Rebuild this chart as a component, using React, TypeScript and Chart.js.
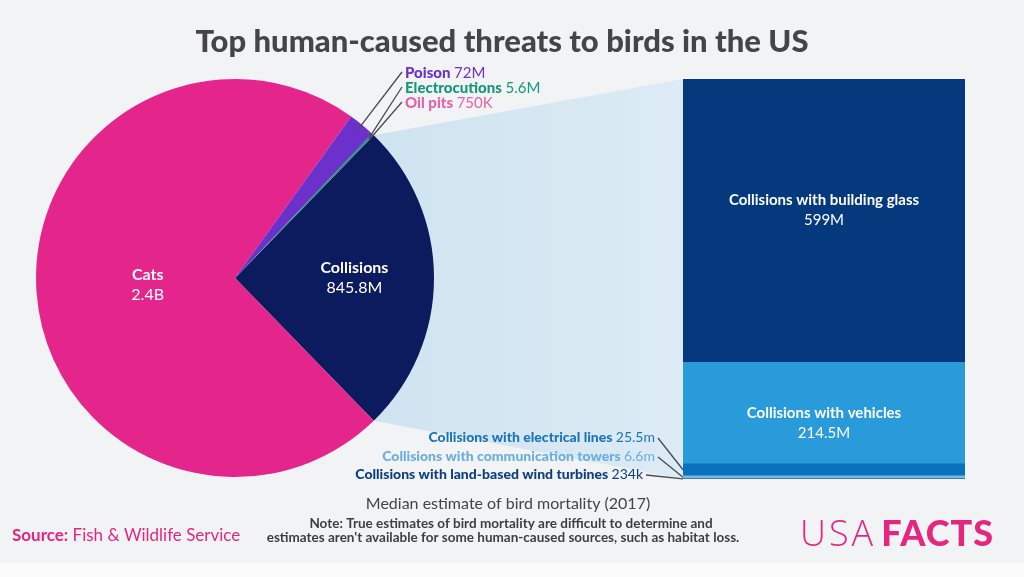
import React, { useEffect, useRef } from 'react';
import { Chart, registerables } from 'chart.js';

Chart.register(...registerables);

// ---- Data ----
const TITLE = 'Top human-caused threats to birds in the US';
const pieLabels = ['Collisions', 'Cats', 'Poison', 'Electrocutions', 'Oil pits'];
const pieValues = [845.8, 2400, 72, 5.6, 0.75]; // millions
const pieValueText = ['845.8M', '2.4B', '72M', '5.6M', '750K'];
const pieColors = ['#0C1B5E', '#E4268C', '#6C30CB', '#17977A', '#E463A8'];

const barLabels = [
  'Collisions with land-based wind turbines',
  'Collisions with communication towers',
  'Collisions with electrical lines',
  'Collisions with vehicles',
  'Collisions with building glass',
];
const barValues = [0.234, 6.6, 25.5, 214.5, 599]; // millions
const barValueText = ['234k', '6.6m', '25.5m', '214.5M', '599M'];
const barColors = ['#0D3A7A', '#7AB8E6', '#0A72BA', '#299BDB', '#04397D'];
const barTextColors = ['#0E3F80', '#6AAEE0', '#1B75B8', '#FFFFFF', '#FFFFFF'];

const SUBTITLE = 'Median estimate of bird mortality (2017)';
const NOTE_LINES = [
  'Note: True estimates of bird mortality are difficult to determine and',
  "estimates aren't available for some human-caused sources, such as habitat loss.",
];
const SOURCE_LABEL = 'Source:';
const SOURCE_TEXT = ' Fish & Wildlife Service';

// ---- Layout ----
const W = 1024;
const H = 577;
const BAR_LEFT = 683;
const BAR_TOP = 79;
const BAR_W = 282;
const BAR_H = 400;
const FONT = 'Lato, "Noto Sans", sans-serif';
const PINK = '#E5267F';

function drawMixed(ctx: CanvasRenderingContext2D, parts: { t: string; font: string; color: string }[], x: number, y: number, align: 'left' | 'right' | 'center') {
  let total = 0;
  const widths = parts.map((p) => {
    ctx.font = p.font;
    const w = ctx.measureText(p.t).width;
    total += w;
    return w;
  });
  let cx = align === 'left' ? x : align === 'right' ? x - total : x - total / 2;
  ctx.textAlign = 'left';
  parts.forEach((p, i) => {
    ctx.font = p.font;
    ctx.fillStyle = p.color;
    ctx.fillText(p.t, cx, y);
    cx += widths[i];
  });
  return total;
}

export default function App() {
  const pieRef = useRef<HTMLCanvasElement>(null);
  const barRef = useRef<HTMLCanvasElement>(null);

  useEffect(() => {
    const barTotal = barValues.reduce((a, b) => a + b, 0);

    const barInside = {
      id: 'barInside',
      afterDatasetsDraw(chart: any) {
        const ctx: CanvasRenderingContext2D = chart.ctx;
        ctx.save();
        ctx.textBaseline = 'middle';
        const offs: Record<number, number> = { 3: 10, 4: -10 };
        [3, 4].forEach((i) => {
          const el: any = chart.getDatasetMeta(i).data[0];
          const cy = (el.y + el.base) / 2 + offs[i];
          ctx.textAlign = 'center';
          ctx.fillStyle = barTextColors[i];
          ctx.font = `bold 15px ${FONT}`;
          ctx.fillText(barLabels[i], el.x, cy - 10);
          ctx.font = `15px ${FONT}`;
          ctx.fillText(barValueText[i], el.x, cy + 10);
        });
        ctx.restore();
      },
    };

    const bar = new Chart(barRef.current!, {
      type: 'bar',
      data: {
        labels: ['Collisions'],
        datasets: barLabels.map((l, i) => ({
          label: l,
          data: [barValues[i]],
          backgroundColor: barColors[i],
          borderWidth: 0,
          barPercentage: 1,
          categoryPercentage: 1,
          stack: 's',
        })),
      },
      options: {
        responsive: false,
        animation: false,
        layout: { padding: 0 },
        scales: {
          x: { display: false, stacked: true },
          y: { display: false, stacked: true, min: 0, max: barTotal },
        },
        plugins: { legend: { display: false }, tooltip: { enabled: false } },
      },
      plugins: [barInside],
    });

    const barEdge = () => {
      const metas = barLabels.map((_, i) => bar.getDatasetMeta(i).data[0] as any);
      const first = metas[0];
      const last = metas[metas.length - 1];
      const left = BAR_LEFT + first.x - first.width / 2;
      return {
        left,
        top: BAR_TOP + last.y,
        bottom: BAR_TOP + first.base,
        segY: metas.map((m) => BAR_TOP + (m.y + m.base) / 2),
      };
    };

    const piePlugin = {
      id: 'piePlugin',
      beforeDraw(chart: any) {
        const ctx: CanvasRenderingContext2D = chart.ctx;
        ctx.save();
        ctx.fillStyle = '#F2F3F5';
        ctx.fillRect(0, 0, W, H);
        ctx.fillStyle = '#FBFBFC';
        ctx.fillRect(0, 563, W, H - 563);
        ctx.restore();
      },
      beforeDatasetsDraw(chart: any) {
        const ctx: CanvasRenderingContext2D = chart.ctx;
        const arc: any = chart.getDatasetMeta(0).data[0];
        const e = barEdge();
        const p1x = arc.x + arc.outerRadius * Math.cos(arc.startAngle);
        const p1y = arc.y + arc.outerRadius * Math.sin(arc.startAngle);
        const p2x = arc.x + arc.outerRadius * Math.cos(arc.endAngle);
        const p2y = arc.y + arc.outerRadius * Math.sin(arc.endAngle);
        ctx.save();
        const g = ctx.createLinearGradient(p1x, 0, e.left, 0);
        g.addColorStop(0, '#CFE3F0');
        g.addColorStop(1, '#DCEBF5');
        ctx.fillStyle = g;
        ctx.beginPath();
        ctx.moveTo(p1x, p1y);
        ctx.lineTo(e.left, e.top);
        ctx.lineTo(e.left, e.bottom);
        ctx.lineTo(p2x, p2y);
        ctx.closePath();
        ctx.fill();
        ctx.restore();
      },
      afterDatasetsDraw(chart: any) {
        const ctx: CanvasRenderingContext2D = chart.ctx;
        const meta = chart.getDatasetMeta(0);
        ctx.save();
        ctx.textBaseline = 'middle';

        // inner labels
        const radFrac = [0.6, 0.44];
        [0, 1].forEach((i) => {
          const a: any = meta.data[i];
          const mid = (a.startAngle + a.endAngle) / 2;
          const x = a.x + a.outerRadius * radFrac[i] * Math.cos(mid);
          const y = a.y + a.outerRadius * radFrac[i] * Math.sin(mid);
          ctx.textAlign = 'center';
          ctx.fillStyle = '#FFFFFF';
          ctx.font = `bold 16px ${FONT}`;
          ctx.fillText(pieLabels[i], x, y - 10);
          ctx.font = `16px ${FONT}`;
          ctx.fillText(pieValueText[i], x, y + 10);
        });

        // callouts for small slices
        const calloutY = [73, 88, 103];
        [2, 3, 4].forEach((i, k) => {
          const a: any = meta.data[i];
          const mid = (a.startAngle + a.endAngle) / 2;
          const ex = a.x + a.outerRadius * 0.97 * Math.cos(mid);
          const ey = a.y + a.outerRadius * 0.97 * Math.sin(mid);
          ctx.strokeStyle = '#4A4A4A';
          ctx.lineWidth = 1.3;
          ctx.beginPath();
          ctx.moveTo(402, calloutY[k] - 1);
          ctx.lineTo(ex, ey);
          ctx.stroke();
          drawMixed(ctx, [
            { t: pieLabels[i] + ' ', font: `900 15px ${FONT}`, color: pieColors[i] },
            { t: pieValueText[i], font: `15px ${FONT}`, color: pieColors[i] },
          ], 405, calloutY[k], 'left');
        });

        // bar callouts for small segments
        const e = barEdge();
        const barLabelY = [474, 456, 437];
        const barLabelRight = [643, 655, 655];
        [0, 1, 2].forEach((i) => {
          ctx.strokeStyle = '#4A4A4A';
          ctx.lineWidth = 1.3;
          ctx.beginPath();
          ctx.moveTo(barLabelRight[i] + 3, barLabelY[i] + 1);
          ctx.lineTo(e.left, e.segY[i]);
          ctx.stroke();
          drawMixed(ctx, [
            { t: barLabels[i] + ' ', font: `900 14px ${FONT}`, color: barTextColors[i] },
            { t: barValueText[i], font: `14px ${FONT}`, color: barTextColors[i] },
          ], barLabelRight[i], barLabelY[i], 'right');
        });

        // title
        ctx.textAlign = 'center';
        ctx.textBaseline = 'alphabetic';
        ctx.fillStyle = '#454545';
        ctx.font = `900 31px ${FONT}`;
        ctx.fillText(TITLE, 502, 52);

        // subtitle
        ctx.font = `16px ${FONT}`;
        ctx.fillStyle = '#444444';
        ctx.fillText(SUBTITLE, 508, 509);

        // note
        ctx.font = `bold 13.5px ${FONT}`;
        ctx.fillStyle = '#3E3E3E';
        ctx.fillText(NOTE_LINES[0], 511, 528);
        ctx.fillText(NOTE_LINES[1], 503, 542);

        // source
        drawMixed(ctx, [
          { t: SOURCE_LABEL, font: `bold 17px ${FONT}`, color: PINK },
          { t: SOURCE_TEXT, font: `17px ${FONT}`, color: PINK },
        ], 12, 541, 'left');

        // logo
        ctx.fillStyle = PINK;
        (ctx as any).letterSpacing = '3px';
        ctx.font = `300 36px "Open Sans", ${FONT}`;
        ctx.textAlign = 'left';
        ctx.fillText('USA', 800, 546);
        const uw = ctx.measureText('USA').width;
        (ctx as any).letterSpacing = '1px';
        ctx.font = `900 36px ${FONT}`;
        ctx.fillText('FACTS', 800 + uw + 5, 546);
        (ctx as any).letterSpacing = '0px';

        ctx.restore();
      },
    };

    const collFrac = pieValues[0] / pieValues.reduce((a, b) => a + b, 0);
    const pie = new Chart(pieRef.current!, {
      type: 'pie',
      data: {
        labels: pieLabels,
        datasets: [{ data: pieValues, backgroundColor: pieColors, borderWidth: 0 }],
      },
      options: {
        responsive: false,
        animation: false,
        rotation: 90 - (collFrac * 360) / 2,
        layout: { padding: { left: 36, right: 590, top: 79, bottom: 100 } },
        plugins: { legend: { display: false }, tooltip: { enabled: false } },
      },
      plugins: [piePlugin],
    });

    return () => {
      pie.destroy();
      bar.destroy();
    };
  }, []);

  return (
    <div style={{ position: 'fixed', left: 0, top: 0, width: W, height: H, overflow: 'hidden' }}>
      <canvas ref={pieRef} width={W} height={H} style={{ position: 'absolute', left: 0, top: 0, width: W, height: H }} />
      <canvas ref={barRef} width={BAR_W} height={BAR_H} style={{ position: 'absolute', left: BAR_LEFT, top: BAR_TOP, width: BAR_W, height: BAR_H }} />
    </div>
  );
}
